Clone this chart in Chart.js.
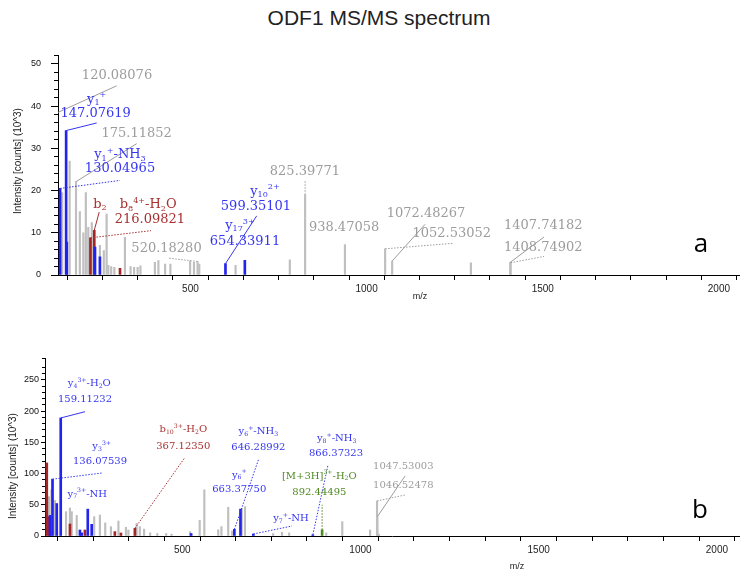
<!DOCTYPE html>
<html>
<head>
<meta charset="utf-8">
<script src="https://cdn.jsdelivr.net/npm/chart.js@4.4.1/dist/chart.umd.min.js"></script>
<style>
  body { margin: 0; background: #fff; }
  #wrap { position: relative; width: 740px; height: 571px; overflow: hidden; }
  #title { position: absolute; left: 0; width: 758px; top: 6px; text-align: center;
           font: 21px "Liberation Sans", Arial, sans-serif; color: #222; }
  canvas { position: absolute; left: 0; }
</style>
</head>
<body>
<div id="wrap">
  <div id="title">ODF1 MS/MS spectrum</div>
  <canvas id="specA" width="740" height="270" style="top:40px"></canvas>
  <canvas id="specB" width="740" height="226" style="top:345px"></canvas>
</div>
<script>
// ---- spectrum a : m/z and intensity (10^3 counts) ----
const grayMzA  = [120.08, 136, 157, 175.12, 186, 196, 203, 210, 220, 243, 254, 262, 267, 275, 284, 314, 330, 340, 350, 358, 399, 409, 428, 443, 499, 510, 520.18, 525, 628, 782, 825.40, 938.47, 1052.53, 1072.48, 1296, 1407.74, 1408.75];
const grayIntA = [38.5, 19.5, 27, 22.1, 15, 10, 19.5, 11.3, 12.4, 7, 5.8, 14.4, 2.3, 2, 1.8, 8.9, 2, 1.8, 1.8, 2.2, 3, 3.4, 2.6, 2.6, 3.3, 3.0, 3.2, 2.6, 2.3, 3.6, 19, 7.2, 6.2, 3.3, 2.9, 3.0, 2.9];
const blueMzA  = [130.05, 147.08, 149, 229, 243, 599.35, 654.34];
const blueIntA = [20.5, 34.2, 7.8, 6.6, 4.3, 2.7, 3.5];
const redMzA   = [216.10, 227, 300];
const redIntA  = [8.8, 10.6, 1.6];

// ---- spectrum b ----
const grayMzB  = [126, 133, 143, 174, 185, 190, 204, 253, 269, 284, 300, 321, 342, 349, 372, 381, 393, 410, 430, 455, 470, 522, 549, 562, 601, 610, 629, 640, 667, 676, 755, 780, 800, 904, 949, 1027, 1046.52, 1047.53, 1052];
const grayIntB = [63, 74, 57, 39, 45, 39, 33, 31, 33.6, 21, 15, 24, 14, 9.6, 20, 15, 11, 5, 4, 4, 3, 7, 25, 74, 10, 15, 46, 8, 44, 47, 4, 6, 5, 5, 23, 9.6, 56, 31, 3];
const blueMzB  = [129, 136.08, 148, 159.11, 213, 218, 235, 246, 525, 646.29, 663.38, 699.5, 866.37];
const blueIntB = [33, 91, 52, 189, 9.6, 5, 43, 18.7, 4, 10.7, 43, 3.2, 2];
const redMzB   = [120, 127, 185, 227, 311, 328, 367.12];
const redIntB  = [117, 31, 19.2, 9.6, 7, 4.8, 12.3];
const greenMzB  = [892.44];
const greenIntB = [10];

const GRAY = '#9c9c9c', BLUE = '#3636f2', RED = '#a83030', GREEN = '#4f8a22';

// peak labels: [text, colour, m/z, intensity]
const labelsA = [
  ['120.08076', GRAY, 291.5, 47.3],
  ['y_{1}^{+}', BLUE, 233.8, 41.6],
  ['147.07619', BLUE, 231, 38.3],
  ['175.11852', GRAY, 347.4, 33.4],
  ['y_{1}^{+}-NH_{3}', BLUE, 300, 28.4],
  ['130.04965', BLUE, 300, 25.1],
  ['b_{2}', RED, 243, 16.7],
  ['b_{8}^{4+}-H_{2}O', RED, 380, 16.6],
  ['216.09821', RED, 385, 13.1],
  ['y_{10}^{2+}', BLUE, 711.6, 19.8],
  ['599.35101', BLUE, 686, 16.3],
  ['y_{17}^{3+}', BLUE, 640.6, 11.7],
  ['654.33911', BLUE, 654.8, 7.8],
  ['825.39771', GRAY, 825, 24.5],
  ['938.47058', GRAY, 936, 11.1],
  ['520.18280', GRAY, 432, 6.3],
  ['1072.48267', GRAY, 1168.6, 14.6],
  ['1052.53052', GRAY, 1241.5, 9.9],
  ['1407.74182', GRAY, 1501.5, 11.7],
  ['1408.74902', GRAY, 1501.5, 6.6]
];
// leader lines: [from m/z, from int, to m/z, to int, colour, dotted]
const leadersA = [
  [120.08, 38.5, 290.6, 44.8, GRAY, false],
  [147.08, 34.2, 233.8, 36, BLUE, false],
  [175.12, 22.1, 347.4, 31.1, GRAY, false],
  [130.05, 20.5, 300, 22.4, BLUE, true],
  [227, 10.6, 241, 14.9, RED, false],
  [216.10, 8.8, 388, 10.5, RED, true],
  [599.35, 2.7, 688, 14, BLUE, false],
  [825.40, 19, 825.40, 22.3, GRAY, true],
  [520.18, 3.2, 437, 4.0, GRAY, true],
  [1072.48, 3.3, 1165.8, 12, GRAY, false],
  [1052.53, 6.2, 1245, 7.5, GRAY, true],
  [1407.74, 3.0, 1503.5, 9, GRAY, false],
  [1408.75, 2.9, 1503.5, 4.4, GRAY, true]
];

const labelsB = [
  ['y_{4}^{3+}-H_{2}O', BLUE, 239.3, 244.7],
  ['159.11232', BLUE, 227.2, 219],
  ['y_{3}^{3+}', BLUE, 274, 143],
  ['136.07539', BLUE, 269.3, 119],
  ['y_{7}^{3+}-NH', BLUE, 233.7, 67.3],
  ['b_{10}^{3+}-H_{2}O', RED, 503, 170],
  ['367.12350', RED, 503, 143],
  ['y_{6}^{+}-NH_{3}', BLUE, 713.5, 167],
  ['646.28992', BLUE, 713.5, 141.5],
  ['y_{6}^{+}', BLUE, 660, 97.8],
  ['663.37750', BLUE, 660, 74.8],
  ['y_{7}^{+}-NH', BLUE, 805, 28.4],
  ['y_{8}^{+}-NH_{3}', BLUE, 933.5, 156.6],
  ['866.37323', BLUE, 931.5, 132.5],
  ['[M+3H]^{3+}-H_{2}O', GREEN, 884.6, 96],
  ['892.44495', GREEN, 884.6, 69.4],
  ['1047.53003', GRAY, 1120.3, 111],
  ['1046.52478', GRAY, 1120.3, 80.6]
];
const leadersB = [
  [159.11, 189, 227.2, 199, BLUE, false],
  [136.08, 91, 277, 101, BLUE, true],
  [367.12, 12.3, 506, 124.5, RED, true],
  [646.29, 10.7, 714.6, 123.4, BLUE, true],
  [699.5, 3.2, 808, 16, BLUE, true],
  [866.37, 2, 909, 113.8, BLUE, true],
  [892.44, 10, 892.44, 50, GREEN, true],
  [1047.53, 31, 1125, 96, GRAY, false],
  [1046.52, 56, 1125, 65.7, GRAY, true]
];

function peaks(mz, inten) { return mz.map((m, i) => ({x: m, y: inten[i]})); }

function parseRich(str) {
  const out = [];
  const re = /([_^])\{([^}]*)\}|([^_^]+)/g;
  let m;
  while ((m = re.exec(str))) {
    if (m[3]) out.push({t: m[3], k: 0});
    else out.push({t: m[2], k: m[1] === '_' ? -1 : 1});
  }
  return out;
}

function drawRich(ctx, str, cx, cy, color, size) {
  const parts = parseRich(str);
  const big = size + 'px "DejaVu Serif"';
  const small = (size * 0.62).toFixed(1) + 'px "DejaVu Serif"';
  let w = 0;
  parts.forEach(p => { ctx.font = p.k ? small : big; p.w = ctx.measureText(p.t).width; w += p.w; });
  let x = cx - w / 2;
  ctx.fillStyle = color;
  ctx.textBaseline = 'middle';
  ctx.textAlign = 'left';
  parts.forEach(p => {
    ctx.font = p.k ? small : big;
    const dy = p.k === -1 ? size * 0.28 : (p.k === 1 ? -size * 0.32 : 0);
    ctx.fillText(p.t, x, cy + dy);
    x += p.w;
  });
}

function labelPlugin(cfg) {
  return {
    id: 'peakLabels',
    afterDatasetsDraw(chart) {
      const {ctx, chartArea} = chart;
      const xs = chart.scales.x, ys = chart.scales.y;
      const px = v => Math.max(xs.getPixelForValue(v), chartArea.left);
      ctx.save();
      ctx.lineWidth = 1;
      cfg.leaders.forEach(l => {
        ctx.strokeStyle = l[4];
        ctx.setLineDash(l[5] ? [1.5, 1.5] : []);
        ctx.beginPath();
        ctx.moveTo(px(l[0]), ys.getPixelForValue(l[1]));
        ctx.lineTo(px(l[2]), ys.getPixelForValue(l[3]));
        ctx.stroke();
      });
      ctx.setLineDash([]);
      cfg.labels.forEach(l => drawRich(ctx, l[0], xs.getPixelForValue(l[2]), ys.getPixelForValue(l[3]), l[1], cfg.labelSize));

      // axis titles and panel letter
      ctx.fillStyle = '#222';
      ctx.textAlign = 'center';
      ctx.textBaseline = 'middle';
      ctx.font = '9px "Liberation Sans", Arial';
      ctx.fillText('m/z', cfg.mzPos[0], cfg.mzPos[1]);
      ctx.save();
      ctx.translate(cfg.yTitlePos[0], cfg.yTitlePos[1]);
      ctx.rotate(-Math.PI / 2);
      ctx.font = '10px "Liberation Sans", Arial';
      ctx.fillText('Intensity [counts] (10^3)', 0, 0);
      ctx.restore();
      ctx.fillStyle = '#000';
      ctx.font = '26px "Open Sans", sans-serif';
      ctx.fillText(cfg.letter, cfg.letterPos[0], cfg.letterPos[1]);
      ctx.restore();
    }
  };
}

const tickFont = {family: '"Liberation Sans", Arial', size: 10};

function makeChart(id, cfg) {
  const sets = [
    {data: peaks(cfg.blue[0], cfg.blue[1]), backgroundColor: '#2323ee', barThickness: 2, order: 1},
    {data: peaks(cfg.green[0], cfg.green[1]), backgroundColor: '#4f8a22', barThickness: 2, order: 2},
    {data: peaks(cfg.red[0], cfg.red[1]), backgroundColor: '#a52424', barThickness: 2, order: 3},
    {data: peaks(cfg.gray[0], cfg.gray[1]), backgroundColor: '#bfbfbf', barThickness: 1.5, order: 4}
  ];
  sets.forEach(s => { s.grouped = false; s.borderWidth = 0; });
  return new Chart(document.getElementById(id), {
    type: 'bar',
    data: {datasets: sets},
    options: {
      responsive: false,
      animation: false,
      devicePixelRatio: 1,
      layout: {padding: {top: cfg.padTop, right: 1, left: 0, bottom: 0}},
      plugins: {legend: {display: false}, tooltip: {enabled: false}},
      scales: {
        x: {
          type: 'linear', offset: false, min: cfg.xMin, max: cfg.xMax,
          grid: {drawOnChartArea: false, tickLength: 5, color: '#000'},
          border: {color: '#000'},
          ticks: {stepSize: 100, maxTicksLimit: 100, autoSkip: false, maxRotation: 0, includeBounds: false,
                  padding: 3, font: tickFont, color: '#222',
                  callback: v => (v % 500 === 0 ? v : '')},
          afterFit: s => { s.height = 35; }
        },
        y: {
          position: 'left', weight: 1, min: 0, max: cfg.yMax,
          grid: {drawOnChartArea: false, tickLength: cfg.majorTick, color: '#000'},
          border: {color: '#000'},
          ticks: {stepSize: cfg.yStep, includeBounds: false, padding: cfg.yPad, font: {family: '"Liberation Sans", Arial', size: 9}, color: '#111'},
          afterFit: s => { s.width = cfg.yWidth; }
        },
        yMinor: {
          position: 'left', weight: 0, min: 0, max: cfg.yMax,
          grid: {drawOnChartArea: false, tickLength: cfg.minorTick, color: '#000'},
          border: {display: false},
          ticks: {stepSize: cfg.yMinorStep, display: false, maxTicksLimit: 200},
          afterFit: s => { s.width = 0; }
        }
      }
    },
    plugins: [labelPlugin(cfg)]
  });
}

makeChart('specA', {
  gray: [grayMzA, grayIntA], blue: [blueMzA, blueIntA], red: [redMzA, redIntA], green: [[], []],
  xMin: 124, xMax: 2057, yMax: 52, yStep: 10, yMinorStep: 2, yWidth: 58, yPad: 10,
  majorTick: 7, minorTick: 4, padTop: 12,
  labels: labelsA, leaders: leadersA, labelSize: 13,
  mzPos: [420, 257], yTitlePos: [18, 121], letter: 'a', letterPos: [701, 205]
});

makeChart('specB', {
  gray: [grayMzB, grayIntB], blue: [blueMzB, blueIntB], red: [redMzB, redIntB], green: [greenMzB, greenIntB],
  xMin: 115, xMax: 2062, yMax: 285, yStep: 50, yMinorStep: 10, yWidth: 45, yPad: 2,
  majorTick: 4, minorTick: 3, padTop: 13,
  labels: labelsB, leaders: leadersB, labelSize: 10,
  mzPos: [517, 222], yTitlePos: [13, 121], letter: 'b', letterPos: [700, 166]
});
</script>
</body>
</html>
